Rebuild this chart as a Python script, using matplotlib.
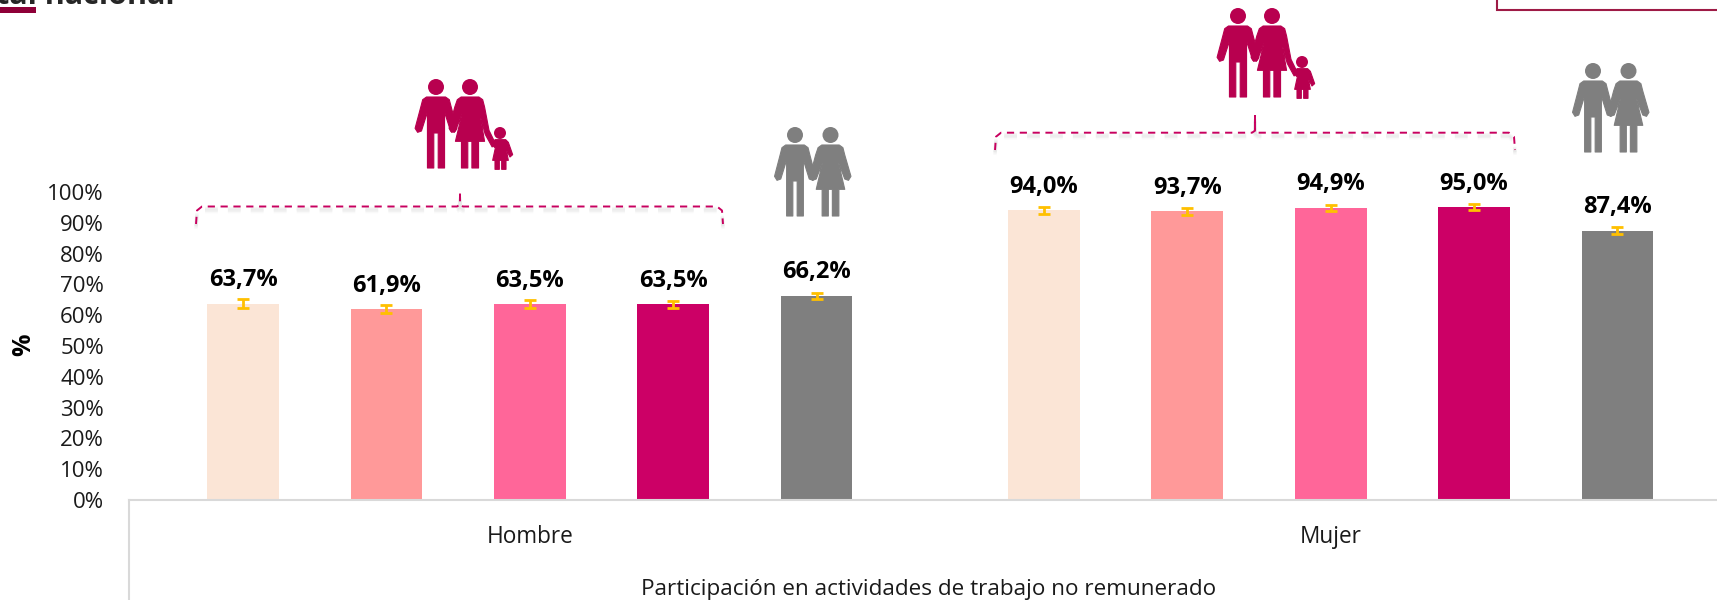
import numpy as np
import matplotlib
matplotlib.use('Agg')
import matplotlib.pyplot as plt
from matplotlib.patches import Polygon, Circle

plt.rcParams['font.family'] = ['Open Sans', 'DejaVu Sans']

# Data
groups = ['Hombre', 'Mujer']
hombre_values = [63.7, 61.9, 63.5, 63.5, 66.2]
mujer_values = [94.0, 93.7, 94.9, 95.0, 87.4]
hombre_err = [1.5, 1.3, 1.3, 1.1, 1.1]
mujer_err = [1.1, 1.1, 1.0, 1.0, 1.1]
colors = ['#FBE5D6', '#FF9999', '#FF6699', '#CC0066', '#7F7F7F']
y_ticks = list(range(0, 101, 10))
axis_title = 'Participación en actividades de trabajo no remunerado'

W, H = 1717, 600
PINK = '#B8004F'
GREY = '#7F7F7F'

fig = plt.figure(figsize=(W / 100, H / 100), dpi=100)
ax = fig.add_axes([129 / W, 100 / H, (W - 129) / W, 308 / H])

# x axis is in bar steps, one step is about 143 px
x_hombre = np.arange(5)
x_mujer = np.arange(5) + 5.585
x = np.concatenate([x_hombre, x_mujer])
values = hombre_values + mujer_values
errs = hombre_err + mujer_err

ax.bar(x, values, width=0.5, color=colors * 2)
ax.errorbar(x, values, yerr=errs, fmt='none', ecolor='#FFC000', elinewidth=2,
            capsize=4.5, capthick=2)

for xi, v in zip(x, values):
    label = f'{v:.1f}%'.replace('.', ',')
    ax.annotate(label, (xi, v), xytext=(0, 17), textcoords='offset points',
                ha='center', va='center', fontsize=17, fontweight='bold', color='black')

ax.set_xlim(-114 / 143.4, (W - 243) / 143.4)
ax.set_ylim(0, 100)
ax.set_yticks(y_ticks)
ax.set_yticklabels([f'{t}%' for t in y_ticks], fontsize=16, color='#1a1a1a')
ax.set_xticks([])
ax.tick_params(axis='y', length=0, pad=18)
for s in ['top', 'right', 'left']:
    ax.spines[s].set_visible(False)
ax.spines['bottom'].set_color('#D9D9D9')
ax.spines['bottom'].set_linewidth(1.5)
ax.patch.set_alpha(0)

ax.text(2, -12.1, groups[0], ha='center', va='center', fontsize=16.3, color='#1a1a1a')
ax.text(7.585, -12.1, groups[1], ha='center', va='center', fontsize=16.3, color='#1a1a1a')
ax.text(4.78, -28.9, axis_title, ha='center', va='center', fontsize=16.2, color='#1a1a1a')

# Overlay in pixel coordinates for icons, brackets and the cut off slide parts
ov = fig.add_axes([0, 0, 1, 1], zorder=5)
ov.set_xlim(0, W)
ov.set_ylim(H, 0)
ov.axis('off')

ov.plot([129, 129], [500, 600], color='#D9D9D9', lw=1.5)
ov.text(24, 345, '%', rotation=90, ha='center', va='center', fontsize=18, fontweight='bold')

# Slide title, underline and box that the crop cuts off
ov.text(-4, 4, 'tal nacional', ha='left', va='baseline', fontsize=22, fontweight='bold',
        color='#262626', clip_on=True)
ov.fill_between([0, 36], 7, 13, color='#8E0038', lw=0)
ov.plot([1497, 1497, W], [0, 10, 10], color='#9E1B46', lw=1.5, solid_joinstyle='miter')


def shape(points, ox, oy, color, sx=1.0, sy=1.0):
    # points are in 1/3 px relative to the head of that figure
    pts = [(ox + px * sx / 3, oy + py * sy / 3) for px, py in points]
    ov.add_patch(Polygon(pts, closed=True, fc=color, ec=color, lw=0.8, joinstyle='round'))


def man(ox, oy, color, sx=1.0):
    ov.add_patch(Circle((ox, oy), 8, fc=color, ec='none'))
    body = [(-30, 30), (30, 30), (42, 38), (48, 60), (66, 124), (58, 136), (46, 132), (27, 75),
            (27, 243), (7, 243), (7, 138), (-7, 138), (-7, 243), (-27, 243), (-27, 75),
            (-46, 132), (-58, 136), (-66, 124), (-48, 60), (-42, 38)]
    shape(body, ox, oy, color, sx)


def woman(ox, oy, color, sx=1.0, child_arm=False):
    ov.add_patch(Circle((ox, oy), 8, fc=color, ec='none'))
    if child_arm:
        right_arm = [(46, 60), (60, 130), (78, 165), (70, 180), (48, 142), (32, 85)]
    else:
        right_arm = [(46, 60), (66, 124), (58, 136), (46, 132), (25, 80)]
    body = [(-28, 30), (28, 30), (40, 38)] + right_arm + [(46, 163), (27, 163), (27, 243),
            (6, 243), (6, 163), (-7, 163), (-7, 243), (-27, 243), (-27, 163), (-46, 163),
            (-25, 80), (-46, 132), (-58, 136), (-66, 124), (-48, 60), (-40, 38)]
    shape(body, ox, oy, color, sx)


def child(ox, oy, color):
    ov.add_patch(Circle((ox, oy), 6, fc=color, ec='none'))
    body = [(-15, 20), (17, 20), (25, 28), (38, 65), (30, 72), (19, 50), (25, 82), (18, 82),
            (18, 109), (5, 109), (5, 82), (-2, 82), (-2, 109), (-15, 109), (-15, 82),
            (-22, 82), (-14, 45), (-24, 36)]
    shape(body, ox, oy, color)


def family(ox, oy):
    # ox, oy is the head of the man
    man(ox, oy, PINK, 0.95)
    woman(ox + 34, oy, PINK, 0.95, child_arm=True)
    child(ox + 64, oy + 46, PINK)


def couple(ox, oy):
    man(ox, oy, GREY, 0.93)
    woman(ox + 35.5, oy, GREY, 0.93)


family(436, 87)
family(1238, 16)
couple(795, 135)
couple(1593, 71)


def bracket(left, right, top, low, notch_x, notch_top):
    xs = [left, left + 1, left + 6, notch_x - 3, notch_x, notch_x, notch_x,
          notch_x + 3, right - 6, right - 1, right]
    ys = [low, top + 4, top, top, top - 2, notch_top, top - 2, top, top, top + 4, low]
    dash = (0, (3.7, 2.9))
    for off, alpha in [(2, 0.05), (3.5, 0.05), (5, 0.03)]:
        ov.plot(xs, np.array(ys) + off, color='#555555', lw=2.5, alpha=alpha, ls=dash)
    ov.plot(xs, ys, color='#C8005F', lw=1.4, ls=dash)


bracket(196, 723, 206.5, 224, 460, 191)
bracket(995, 1515, 132.7, 150, 1255, 116)

fig.savefig('out.png', dpi=100)
